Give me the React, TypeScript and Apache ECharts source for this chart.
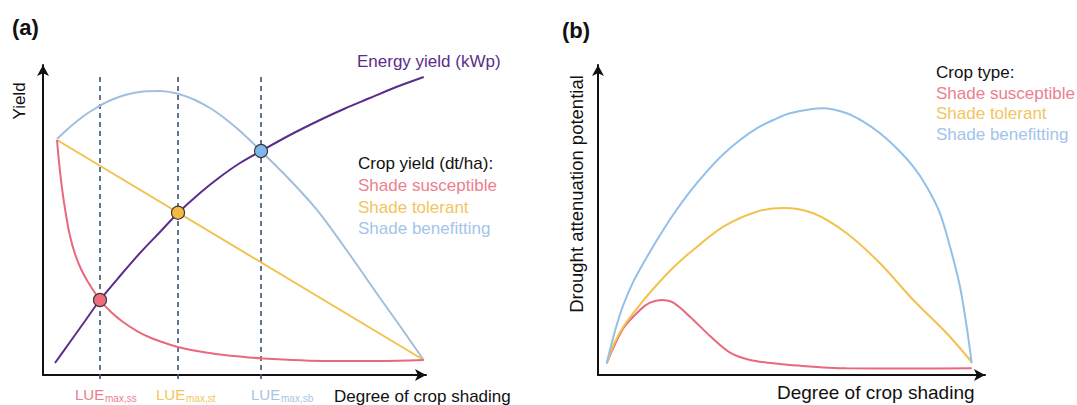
import React, { useEffect, useRef } from "react";
import * as echarts from "echarts";

const FONT = "'Liberation Sans', Arial, Helvetica, sans-serif";

// Panel (a): degree of crop shading (0-100) vs yield (0-100), schematic
const redYieldA = [
  [3.66, 75.81], [4.18, 68.71], [4.96, 60.32], [6.01, 51.61], [7.05, 44.84], [8.36, 39.03],
  [9.92, 34.19], [11.75, 30.0], [14.88, 24.19], [17.75, 20.32], [20.89, 17.1], [24.54, 14.19],
  [27.94, 12.1], [31.85, 10.32], [35.77, 8.87], [40.99, 7.58], [46.21, 6.61], [57.44, 5.32],
  [74.93, 4.52], [87.99, 4.52], [99.4, 4.84],
];
const yellowYieldA = [[3.66, 75.81], [99.4, 4.84]];
const blueYieldA = [
  [3.66, 76.13], [7.05, 80.0], [10.44, 83.39], [13.84, 86.13], [17.49, 88.55], [21.41, 90.32],
  [26.11, 91.45], [30.55, 91.61], [34.99, 90.81], [39.69, 88.71], [43.6, 86.13], [47.0, 83.23],
  [51.44, 78.71], [56.92, 72.26], [64.49, 62.9], [71.54, 53.23], [80.16, 38.71], [87.99, 24.84],
  [93.21, 15.81], [99.4, 4.84],
];
const energyYieldA = [
  [3.13, 3.87], [7.05, 10.65], [10.97, 17.42], [14.88, 24.19], [20.1, 31.94], [25.33, 39.35],
  [30.55, 46.13], [35.25, 52.26], [40.99, 58.71], [46.21, 63.87], [51.44, 68.39], [56.92, 72.26],
  [64.49, 77.42], [72.32, 82.26], [78.85, 85.97], [85.38, 89.35], [91.91, 92.74], [99.4, 96.13],
];
const lueX = [14.88, 35.25, 56.92];
const lueY = [24.19, 52.35, 72.26];
const lueNames = ["max,ss", "max,st", "max,sb"];
const dashTop = 96.1;
const dashBottom = -1.9;

// Panel (b): degree of crop shading (0-100) vs drought attenuation potential (0-100)
const redDroughtB = [
  [2.25, 3.77], [6.54, 15.06], [10.85, 20.97], [13.44, 23.32], [16.46, 24.19], [19.46, 23.32],
  [23.77, 18.81], [28.94, 12.58], [34.11, 7.19], [39.28, 4.84], [45.3, 3.77], [49.61, 3.23],
  [64.26, 2.16], [80.62, 2.1], [96.56, 2.16],
];
const yellowDroughtB = [
  [2.25, 3.77], [4.13, 10.0], [6.54, 15.58], [10.85, 22.74], [15.17, 29.03], [19.46, 34.68],
  [23.77, 39.5], [32.38, 47.84], [41.01, 52.68], [47.8, 53.87], [55.63, 52.16], [64.26, 45.71],
  [72.87, 36.03], [81.47, 24.19], [90.1, 13.45], [96.56, 4.19],
];
const blueDroughtB = [
  [2.25, 3.77], [3.54, 10.23], [4.83, 16.13], [6.54, 22.58], [9.12, 30.1], [11.71, 36.03],
  [15.17, 43.39], [19.46, 51.77], [23.77, 59.13], [28.09, 65.58], [32.38, 71.19], [36.69, 75.81],
  [41.01, 79.58], [45.3, 82.26], [49.61, 84.42], [58.22, 86.03], [64.26, 84.42], [68.55, 81.71],
  [72.87, 77.97], [77.18, 73.13], [81.47, 67.19], [84.94, 60.74], [88.37, 52.16], [90.96, 41.39],
  [93.54, 28.48], [95.27, 15.58], [96.56, 3.77],
];

const legendItems = ["Shade susceptible", "Shade tolerant", "Shade benefitting"];

const RED = "#e8687c";
const YELLOW = "#f1c24e";
const BLUE_A = "#a2bedb";
const BLUE_B = "#91c0ea";
const PURPLE = "#5a2d8c";
const DASH = "#3a5576";
const LEG_COLORS = ["#ec8090", "#f3c55e", "#a3c4eb"];
const LUE_COLORS = ["#e8808f", "#f0c65a", "#a9c3e3"];
const CIRCLE_COLORS = ["#f06b7e", "#f5b943", "#80b6ee"];

function axisPair(gridIndex: number) {
  const line = {
    show: true,
    symbol: ["none", "arrow"],
    symbolSize: [9, 11],
    lineStyle: { color: "#111", width: 2 },
  };
  return {
    x: {
      type: "value", gridIndex, min: 0, max: 100,
      axisLine: line, axisTick: { show: false }, axisLabel: { show: false },
      splitLine: { show: false },
    },
    y: {
      type: "value", gridIndex, min: 0, max: 100,
      axisLine: line, axisTick: { show: false }, axisLabel: { show: false },
      splitLine: { show: false },
    },
  };
}

function curve(data: number[][], color: string, idx: number, z = 3) {
  return {
    type: "line", xAxisIndex: idx, yAxisIndex: idx, data,
    smooth: 0.3, symbol: "none", z,
    lineStyle: { color, width: 2 }, silent: true,
  };
}

function txt(text: string, x: number, y: number, fill: string, fontSize: number, extra: any = {}) {
  return {
    type: "text", x, y, rotation: extra.rotation || 0, silent: true,
    style: {
      text, x: 0, y: 0, fill, fontSize, fontFamily: FONT,
      fontWeight: extra.bold ? "bold" : "normal",
      textAlign: extra.align || "left", textVerticalAlign: "middle",
    },
  };
}

export default function App() {
  const ref = useRef<HTMLDivElement>(null);
  useEffect(() => {
    document.body.style.margin = "0";
    if (!ref.current) return;
    const chart = echarts.init(ref.current, undefined, { renderer: "svg" });
    const a = axisPair(0);
    const b = axisPair(1);

    const series: any[] = [];
    lueX.forEach((x) => {
      series.push({
        type: "line", xAxisIndex: 0, yAxisIndex: 0, data: [[x, dashTop], [x, dashBottom]],
        symbol: "none", clip: false, z: 1, silent: true,
        lineStyle: { color: DASH, width: 1.6, type: [5, 4] },
      });
    });
    series.push(curve(blueYieldA, BLUE_A, 0));
    series.push(curve(yellowYieldA, YELLOW, 0));
    series.push(curve(redYieldA, RED, 0));
    series.push(curve(energyYieldA, PURPLE, 0, 4));
    series.push({
      type: "scatter", xAxisIndex: 0, yAxisIndex: 0, z: 6, silent: true,
      symbolSize: 13,
      data: lueX.map((x, i) => ({
        value: [x, lueY[i]],
        itemStyle: { color: CIRCLE_COLORS[i], borderColor: "#3a3a3a", borderWidth: 1.2, opacity: 1 },
      })),
    });
    series.push(curve(redDroughtB, RED, 1));
    series.push(curve(yellowDroughtB, YELLOW, 1));
    series.push(curve(blueDroughtB, BLUE_B, 1));

    const graphics: any[] = [
      txt("(a)", 12, 27, "#111", 22, { bold: true }),
      txt("(b)", 562, 30, "#111", 22, { bold: true }),
      txt("Energy yield (kWp)", 357, 61, PURPLE, 17),
      txt("Yield", 19, 101, "#111", 17, { rotation: Math.PI / 2, align: "center" }),
      txt("Crop yield (dt/ha):", 358, 163.5, "#111", 17),
      txt("Degree of crop shading", 334, 396, "#111", 17),
      txt("Degree of crop shading", 777, 392, "#111", 19),
      txt("Drought attenuation potential", 576, 194, "#111", 18.5, { rotation: Math.PI / 2, align: "center" }),
      txt("Crop type:", 936, 72.5, "#111", 17),
    ];
    legendItems.forEach((name, i) => {
      graphics.push(txt(name, 358, 185.5 + i * 21.5, LEG_COLORS[i], 17));
      graphics.push(txt(name, 936, 93 + i * 20.5, LEG_COLORS[i], 17));
    });
    const lueLeft = [75, 156, 251];
    lueNames.forEach((sub, i) => {
      graphics.push(txt("LUE", lueLeft[i], 394, LUE_COLORS[i], 15));
      graphics.push(txt(sub, lueLeft[i] + 30, 398.5, LUE_COLORS[i], 10));
    });

    chart.setOption({
      animation: false,
      backgroundColor: "#ffffff",
      grid: [
        { left: 43, top: 65, width: 383, height: 310 },
        { left: 598, top: 65, width: 387, height: 310 },
      ],
      xAxis: [a.x, b.x],
      yAxis: [a.y, b.y],
      series,
      graphic: graphics,
    });
    return () => chart.dispose();
  }, []);
  return <div ref={ref} style={{ width: 1077, height: 405 }} />;
}
